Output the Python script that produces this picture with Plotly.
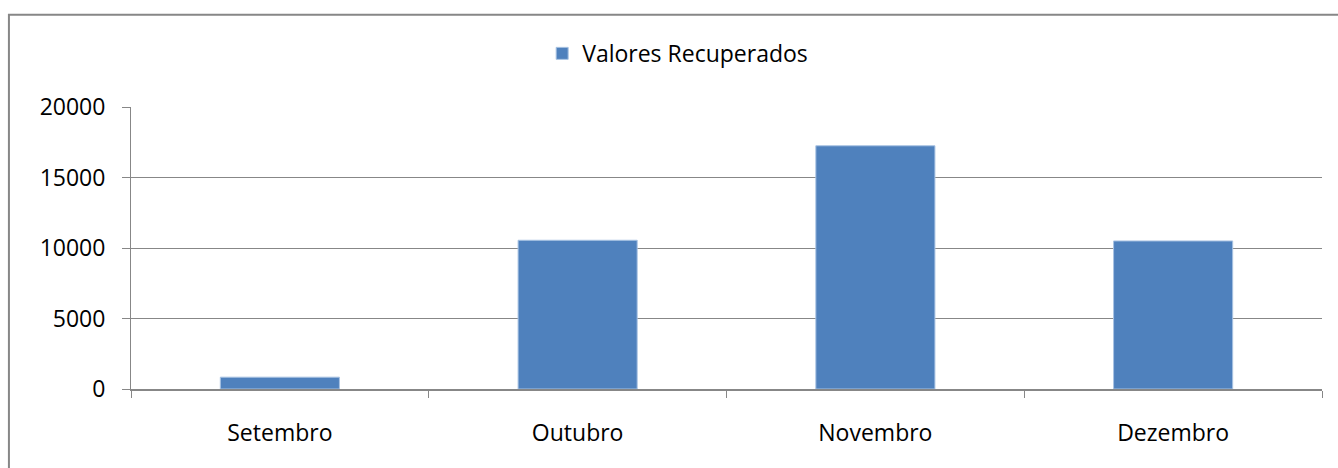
import plotly.graph_objects as go

months = ["Setembro", "Outubro", "Novembro", "Dezembro"]
valores = [840, 10550, 17250, 10500]
series_name = "Valores Recuperados"
y_ticks = [0, 5000, 10000, 15000, 20000]

FONT = "Open Sans"
FS = 23

fig = go.Figure()
fig.add_trace(go.Bar(
    x=months, y=valores, name=series_name,
    marker=dict(color="#4F81BD", line=dict(color="#A9C3E3", width=1)),
    showlegend=True,
))

fig.update_layout(
    width=1338, height=468,
    margin=dict(l=131, r=16, t=107, b=79),
    paper_bgcolor="white", plot_bgcolor="white",
    font=dict(family=FONT, size=FS, color="black"),
    bargap=0.6,
    showlegend=True,
    legend=dict(orientation="h", x=0.459, xanchor="center", y=1.19, yanchor="middle",
                font=dict(family=FONT, size=FS, color="black"),
                itemwidth=30, bgcolor="rgba(0,0,0,0)"),
    xaxis=dict(
        tickson="boundaries", ticks="outside", ticklen=7, tickcolor="#878787", tickwidth=1,
        showline=True, linecolor="#878787", linewidth=2,
        ticklabelstandoff=22,
        showgrid=False, tickfont=dict(family=FONT, size=FS, color="black"),
    ),
    yaxis=dict(
        range=[0, 20000], tickvals=y_ticks, ticktext=[str(v) for v in y_ticks],
        ticks="outside", ticklen=8, tickcolor="#878787", tickwidth=1,
        showline=True, linecolor="#878787", linewidth=1,
        ticklabelstandoff=12,
        showgrid=True, gridcolor="#878787", gridwidth=1,
        zeroline=False, tickfont=dict(family=FONT, size=FS, color="black"),
    ),
    shapes=[dict(type="rect", xref="paper", yref="paper",
                 x0=-0.1025, x1=1.05, y0=-0.6, y1=1.327,
                 line=dict(color="#878787", width=2), fillcolor="rgba(0,0,0,0)", layer="below")],
)

fig.write_html(
    "out.html",
    config={"displayModeBar": False},
    post_script="document.body.style.margin='0';document.body.style.overflow='hidden';",
)
